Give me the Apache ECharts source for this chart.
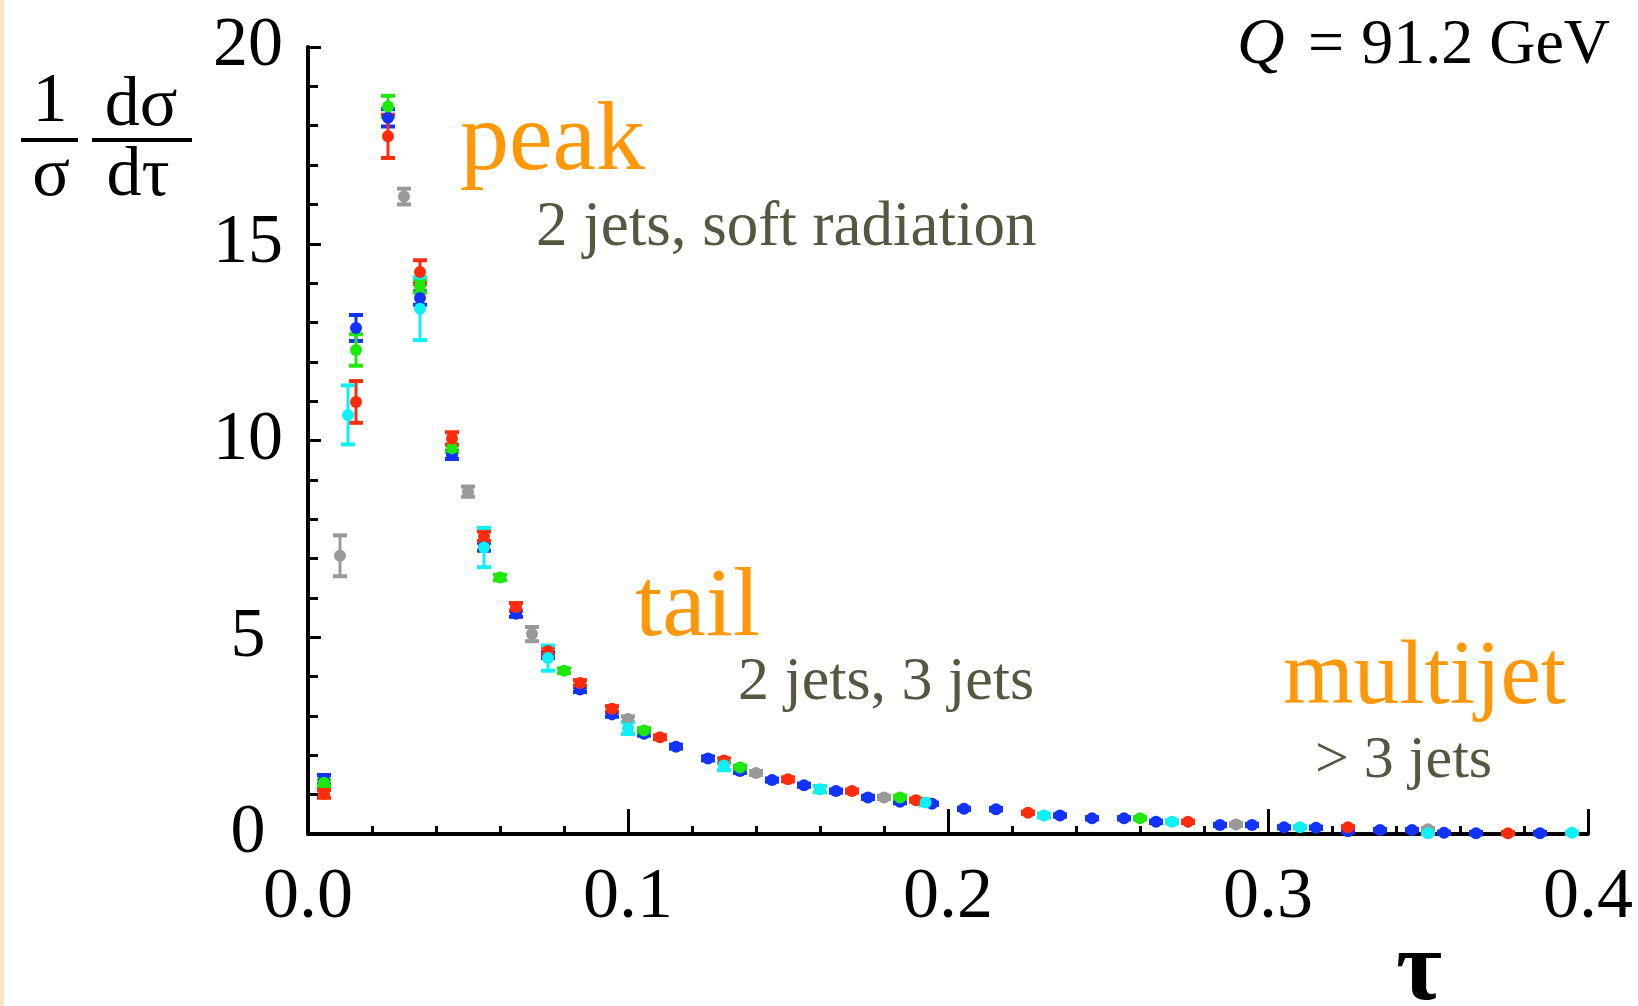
<!DOCTYPE html>
<html>
<head>
<meta charset="utf-8">
<script src="https://cdn.jsdelivr.net/npm/echarts@6/dist/echarts.min.js"></script>
<style>
  html, body { margin: 0; padding: 0; background: #fff; }
  #chart { width: 1638px; height: 1006px; }
</style>
</head>
<body>
<div id="chart"></div>
<script>
// thrust distribution
const grayTau = [0.01, 0.03, 0.05, 0.07, 0.1, 0.14, 0.18, 0.29, 0.35]
const grayVal = [7.07, 16.2, 8.7, 5.08, 2.92, 1.55, 0.93, 0.24, 0.12]
const grayErr = [0.52, 0.2, 0.13, 0.18, 0.07, 0.05, 0.04, 0.03, 0.03]

const blueTau = [0.005, 0.015, 0.025, 0.035, 0.045, 0.055, 0.065, 0.075, 0.085, 0.095, 0.105, 0.115,
  0.125, 0.135, 0.145, 0.155, 0.165, 0.175, 0.185, 0.195, 0.205, 0.215, 0.235, 0.245, 0.255, 0.265,
  0.285, 0.295, 0.305, 0.315, 0.325, 0.335, 0.345, 0.355, 0.365, 0.385]
const blueVal = [1.38, 12.86, 18.2, 13.62, 9.63, 7.3, 5.6, 4.55, 3.67, 3.04, 2.55, 2.22,
  1.92, 1.6, 1.37, 1.24, 1.09, 0.93, 0.82, 0.77, 0.64, 0.63, 0.47, 0.4, 0.4, 0.31,
  0.23, 0.23, 0.17, 0.16, 0.07, 0.1, 0.1, 0.03, 0.02, 0.02]
const blueErr = [0.12, 0.33, 0.22, 0.17, 0.1, 0.1, 0.08, 0.08, 0.06, 0.06, 0.05, 0.05,
  0.05, 0.05, 0.04, 0.04, 0.04, 0.04, 0.04, 0.03, 0.03, 0.03, 0.03, 0.03, 0.03, 0.03,
  0.03, 0.03, 0.03, 0.03, 0.03, 0.03, 0.03, 0.03, 0.03, 0.03]

const greenTau = [0.005, 0.015, 0.025, 0.035, 0.045, 0.06, 0.08, 0.105, 0.135, 0.185, 0.26]
const greenVal = [1.3, 12.3, 18.49, 13.92, 9.8, 6.52, 4.15, 2.63, 1.69, 0.93, 0.4]
const greenErr = [0.08, 0.4, 0.27, 0.16, 0.1, 0.07, 0.06, 0.06, 0.05, 0.04, 0.03]

const redTau = [0.005, 0.015, 0.025, 0.035, 0.045, 0.055, 0.065, 0.075, 0.085, 0.095, 0.11, 0.13,
  0.15, 0.17, 0.19, 0.225, 0.275, 0.325, 0.375]
const redVal = [1.02, 10.98, 17.73, 14.28, 10.05, 7.57, 5.77, 4.65, 3.84, 3.18, 2.46, 1.87,
  1.39, 1.09, 0.86, 0.54, 0.31, 0.17, 0.02]
const redErr = [0.1, 0.53, 0.55, 0.3, 0.16, 0.12, 0.1, 0.1, 0.07, 0.07, 0.05, 0.05,
  0.05, 0.04, 0.04, 0.03, 0.03, 0.03, 0.03]

const cyanTau = [0.0125, 0.035, 0.055, 0.075, 0.1, 0.13, 0.16, 0.193, 0.23, 0.27, 0.31, 0.35, 0.395]
const cyanVal = [10.65, 13.35, 7.28, 4.47, 2.69, 1.74, 1.14, 0.8, 0.47, 0.31, 0.17, 0.02, 0.03]
const cyanErr = [0.75, 0.8, 0.5, 0.32, 0.15, 0.12, 0.08, 0.07, 0.05, 0.04, 0.03, 0.03, 0.03]

const xTicks = [0, 0.1, 0.2, 0.3, 0.4]
const yTicks = [0, 5, 10, 15, 20]

const serif = 'Liberation Serif'
const orange = '#ff9808'
const olive = '#575640'

// 误差棒
function errorBars (color) {
  return function (params, api) {
    const x = api.value(0)
    const y = api.value(1)
    const e = api.value(2)
    const lo = api.coord([x, y - e])
    const hi = api.coord([x, y + e])
    const hw = 7
    const bar = { stroke: color, lineWidth: 3 }
    const cap = { stroke: color, lineWidth: 4 }
    return {
      type: 'group',
      children: [
        { type: 'line', shape: { x1: lo[0], y1: lo[1], x2: hi[0], y2: hi[1] }, style: bar },
        { type: 'line', shape: { x1: lo[0] - hw, y1: lo[1], x2: lo[0] + hw, y2: lo[1] }, style: cap },
        { type: 'line', shape: { x1: hi[0] - hw, y1: hi[1], x2: hi[0] + hw, y2: hi[1] }, style: cap }
      ]
    }
  }
}

function makeSeries (name, color, tau, val, err) {
  const data = tau.map((t, i) => [t, val[i], err[i]])
  return [
    {
      name: name + ' err',
      type: 'custom',
      renderItem: errorBars(color),
      data: data,
      encode: { x: 0, y: 1 },
      silent: true
    },
    {
      name: name,
      type: 'scatter',
      data: data.map(d => [d[0], d[1]]),
      symbol: 'circle',
      symbolSize: 12,
      itemStyle: { color: color, opacity: 1 }
    }
  ]
}

function label (x, y, text, size, color, extra) {
  return {
    type: 'text',
    x: x,
    y: y,
    style: Object.assign({
      text: text,
      fontFamily: serif,
      fontSize: size,
      fill: color,
      textVerticalAlign: 'middle'
    }, extra || {})
  }
}

const chart = echarts.init(document.getElementById('chart'))

const series = [].concat(
  makeSeries('gray', '#999999', grayTau, grayVal, grayErr),
  makeSeries('blue', '#1232ff', blueTau, blueVal, blueErr),
  makeSeries('green', '#1ee80c', greenTau, greenVal, greenErr),
  makeSeries('red', '#ff2c0c', redTau, redVal, redErr),
  makeSeries('cyan', '#0cf0f6', cyanTau, cyanVal, cyanErr)
)

chart.setOption({
  animation: false,
  backgroundColor: '#fff',
  grid: { left: 308, right: 50, top: 47, bottom: 172, show: false },
  xAxis: {
    type: 'value',
    min: xTicks[0],
    max: xTicks[xTicks.length - 1],
    interval: xTicks[1] - xTicks[0],
    axisLine: { lineStyle: { color: '#000', width: 4 } },
    axisTick: { inside: true, length: 25, lineStyle: { color: '#000', width: 3 } },
    minorTick: { show: true, splitNumber: 5, length: 8, lineStyle: { color: '#000', width: 3 } },
    splitLine: { show: false },
    axisLabel: {
      formatter: v => v.toFixed(1),
      fontFamily: serif,
      fontSize: 72,
      color: '#000',
      margin: 28
    }
  },
  yAxis: {
    type: 'value',
    min: yTicks[0],
    max: yTicks[yTicks.length - 1],
    interval: yTicks[1] - yTicks[0],
    axisLine: { show: true, lineStyle: { color: '#000', width: 4 } },
    axisTick: { inside: true, length: 13, lineStyle: { color: '#000', width: 3 } },
    minorTick: { show: true, splitNumber: 5, length: 10, lineStyle: { color: '#000', width: 3 } },
    splitLine: { show: false },
    axisLabel: {
      fontFamily: serif,
      fontSize: 70,
      color: '#000',
      align: 'center',
      margin: 60
    }
  },
  graphic: [
    // 左边的浅色边
    { type: 'rect', left: 0, top: 0, shape: { width: 4, height: 1006 }, style: { fill: '#fde2c6' } },
    // y 轴标题 1/σ dσ/dτ
    label(50, 103, '1', 70, '#000', { textAlign: 'center' }),
    label(51, 177, 'σ', 70, '#000', { textAlign: 'center' }),
    { type: 'line', shape: { x1: 21, y1: 140, x2: 78, y2: 140 }, style: { stroke: '#000', lineWidth: 4 } },
    label(141, 107, 'dσ', 70, '#000', { textAlign: 'center' }),
    label(138, 177, 'dτ', 70, '#000', { textAlign: 'center' }),
    { type: 'line', shape: { x1: 92, y1: 140, x2: 192, y2: 140 }, style: { stroke: '#000', lineWidth: 4 } },
    // x 轴标题
    label(1419, 973, 'τ', 100, '#000', { textAlign: 'center', fontWeight: 'bold' }),
    // Q = 91.2 GeV
    label(1237, 46, 'Q', 66, '#000', { textAlign: 'left', fontStyle: 'italic' }),
    label(1326, 46, '=', 64, '#000', { textAlign: 'center' }),
    label(1610, 46, '91.2 GeV', 64, '#000', { textAlign: 'right' }),
    // 区域说明
    label(460, 143, 'peak', 98, orange),
    label(536, 228, '2 jets, soft radiation', 63, olive),
    label(635, 609, 'tail', 98, orange),
    label(738, 683, '2 jets, 3 jets', 62, olive),
    label(1283, 679, 'multijet', 91, orange),
    label(1315, 761, '> 3 jets', 60, olive)
  ],
  series: series
})
</script>
</body>
</html>
